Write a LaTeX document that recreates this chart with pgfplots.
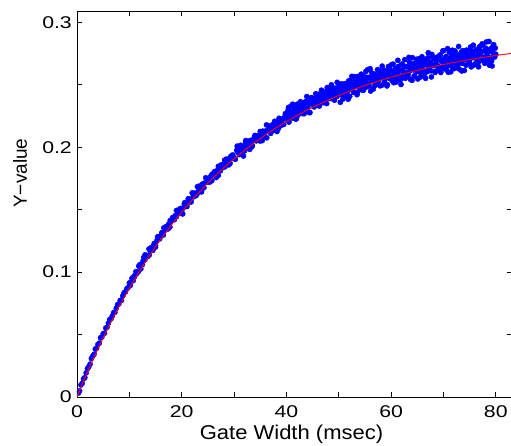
\documentclass[border=0pt]{standalone}
\usepackage{fontspec}
\setmainfont{Liberation Sans}
\newfontfamily\tickfont{Liberation Sans}[FakeStretch=1.25]
\newfontfamily\xlabfont{Liberation Sans}[FakeStretch=1.1]
\usepackage{pgfplots}
\usepackage{pgfplotstable}
\pgfplotsset{compat=1.18}
\usetikzlibrary{calc}

% measured points (x in msec, y value)
\pgfplotstableread{
x y
0.25 0.0031
0.5 0.0049
0.75 0.0096
1.0 0.0110
1.25 0.0145
1.5 0.0156
1.75 0.0193
2.0 0.0227
2.25 0.0241
2.5 0.0263
2.75 0.0308
3.0 0.0326
3.25 0.0342
3.5 0.0384
3.75 0.0390
4.0 0.0421
4.25 0.0431
4.5 0.0474
4.75 0.0480
5.0 0.0506
5.25 0.0511
5.5 0.0552
5.75 0.0559
6.0 0.0591
6.25 0.0620
6.5 0.0626
6.75 0.0649
7.0 0.0675
7.25 0.0678
7.5 0.0710
7.75 0.0739
8.0 0.0745
8.25 0.0773
8.5 0.0773
8.75 0.0809
9.0 0.0835
9.25 0.0842
9.5 0.0866
9.75 0.0875
10.0 0.0913
10.25 0.0915
10.5 0.0948
10.75 0.0932
11.0 0.0971
11.25 0.1003
11.5 0.0997
11.75 0.1005
12.0 0.1059
12.25 0.1060
12.5 0.1061
12.75 0.1117
13.0 0.1100
13.25 0.1131
13.5 0.1124
13.75 0.1185
14.0 0.1168
14.25 0.1192
14.5 0.1174
14.75 0.1229
15.0 0.1214
15.25 0.1250
15.5 0.1283
15.75 0.1268
16.0 0.1289
16.25 0.1315
16.5 0.1297
16.75 0.1335
17.0 0.1364
17.25 0.1351
17.5 0.1383
17.75 0.1361
18.0 0.1408
18.25 0.1436
18.5 0.1425
18.75 0.1451
19.0 0.1443
19.25 0.1495
19.5 0.1481
19.75 0.1509
20.0 0.1489
20.25 0.1513
20.5 0.1545
20.75 0.1525
21.0 0.1525
21.25 0.1586
21.5 0.1578
21.75 0.1570
22.0 0.1634
22.25 0.1602
22.5 0.1633
22.75 0.1612
23.0 0.1684
23.25 0.1651
23.5 0.1675
23.75 0.1642
24.0 0.1705
24.25 0.1676
24.5 0.1715
24.75 0.1749
25.0 0.1720
25.25 0.1738
25.5 0.1765
25.75 0.1732
26.0 0.1774
26.25 0.1804
26.5 0.1778
26.75 0.1812
27.0 0.1774
27.25 0.1828
27.5 0.1857
27.75 0.1835
28.0 0.1861
28.25 0.1842
28.5 0.1904
28.75 0.1877
29.0 0.1906
29.25 0.1871
29.5 0.1908
29.75 0.1938
30.0 0.1915
30.25 0.1905
30.5 0.1974
30.75 0.1957
31.0 0.1941
31.25 0.2015
31.5 0.1968
31.75 0.2002
32.0 0.1970
32.25 0.2053
32.5 0.2006
32.75 0.2029
33.0 0.1982
33.25 0.2055
33.5 0.2013
33.75 0.2056
34.0 0.2094
34.25 0.2051
34.5 0.2069
34.75 0.2096
35.0 0.2049
35.25 0.2096
35.5 0.2128
35.75 0.2091
36.0 0.2128
36.25 0.2075
36.5 0.2137
36.75 0.2169
37.0 0.2136
37.25 0.2163
37.5 0.2135
37.75 0.2207
38.0 0.2169
38.25 0.2200
38.5 0.2151
38.75 0.2193
39.0 0.2224
39.25 0.2191
39.5 0.2182
39.75 0.2249
40.0 0.2230
40.2 0.2222
40.4 0.2318
40.6 0.2245
40.8 0.2285
41.0 0.2234
41.2 0.2344
41.4 0.2272
41.6 0.2297
41.8 0.2225
42.0 0.2321
42.2 0.2255
42.4 0.2309
42.6 0.2355
42.8 0.2290
43.0 0.2308
43.2 0.2341
43.4 0.2268
43.6 0.2329
43.8 0.2368
44.0 0.2310
44.2 0.2356
44.4 0.2276
44.6 0.2357
44.8 0.2396
45.0 0.2344
45.2 0.2376
45.4 0.2332
45.6 0.2427
45.8 0.2368
46.0 0.2407
46.2 0.2334
46.4 0.2387
46.6 0.2426
46.8 0.2374
47.0 0.2356
47.2 0.2444
47.4 0.2413
47.6 0.2382
47.8 0.2477
48.0 0.2404
48.2 0.2442
48.4 0.2390
48.6 0.2499
48.8 0.2425
49.0 0.2450
49.2 0.2376
49.4 0.2471
49.6 0.2405
49.8 0.2457
50.0 0.2503
50.2 0.2420
50.4 0.2442
50.6 0.2481
50.8 0.2385
51.0 0.2461
51.2 0.2509
51.4 0.2431
51.6 0.2489
51.8 0.2384
52.0 0.2486
52.2 0.2534
52.4 0.2466
52.6 0.2505
52.8 0.2445
53.0 0.2565
53.2 0.2487
53.4 0.2535
53.6 0.2439
53.8 0.2505
54.0 0.2554
54.2 0.2484
54.4 0.2460
54.6 0.2571
54.8 0.2529
55.0 0.2487
55.2 0.2607
55.4 0.2501
55.6 0.2559
55.8 0.2490
56.0 0.2628
56.2 0.2531
56.4 0.2561
56.6 0.2465
56.8 0.2584
57.0 0.2497
57.2 0.2563
57.4 0.2620
57.6 0.2532
57.8 0.2553
58.0 0.2592
58.2 0.2495
58.4 0.2570
58.6 0.2617
58.8 0.2539
59.0 0.2595
59.2 0.2490
59.4 0.2591
59.6 0.2639
59.8 0.2569
60.0 0.2608
60.2 0.2532
60.4 0.2665
60.6 0.2577
60.8 0.2629
61.0 0.2522
61.2 0.2594
61.4 0.2646
61.6 0.2569
61.8 0.2541
62.0 0.2663
62.2 0.2615
62.4 0.2568
62.6 0.2700
62.8 0.2592
63.0 0.2644
63.2 0.2566
63.4 0.2719
63.6 0.2611
63.8 0.2643
64.0 0.2535
64.2 0.2667
64.4 0.2569
64.6 0.2641
64.8 0.2703
65.0 0.2605
65.2 0.2627
65.4 0.2669
65.6 0.2561
65.8 0.2643
66.0 0.2695
66.2 0.2607
66.4 0.2669
66.6 0.2551
66.8 0.2663
67.0 0.2715
67.2 0.2637
67.4 0.2679
67.6 0.2611
67.8 0.2742
68.0 0.2654
68.2 0.2706
68.4 0.2598
68.6 0.2670
68.8 0.2721
69.0 0.2643
69.2 0.2615
69.4 0.2737
69.6 0.2688
69.8 0.2640
70.0 0.2772
70.2 0.2664
70.4 0.2715
70.6 0.2637
70.8 0.2789
71.0 0.2680
71.2 0.2712
71.4 0.2603
71.6 0.2735
71.8 0.2637
72.0 0.2708
72.2 0.2770
72.4 0.2671
72.6 0.2693
72.8 0.2735
73.0 0.2626
73.2 0.2708
73.4 0.2759
73.6 0.2671
73.8 0.2732
74.0 0.2614
74.2 0.2725
74.4 0.2777
74.6 0.2698
74.8 0.2739
75.0 0.2671
75.2 0.2802
75.4 0.2714
75.6 0.2765
75.8 0.2657
76.0 0.2728
76.2 0.2779
76.4 0.2701
76.6 0.2672
76.8 0.2793
77.0 0.2745
77.2 0.2696
77.4 0.2827
77.6 0.2718
77.8 0.2770
78.0 0.2691
78.2 0.2842
78.4 0.2734
78.6 0.2765
78.8 0.2656
79.0 0.2787
79.2 0.2689
79.4 0.2760
79.6 0.2821
79.8 0.2722
80.0 0.2744
40.1 0.2226
40.3 0.2294
40.5 0.2201
40.7 0.2276
40.9 0.2330
41.1 0.2264
41.3 0.2234
41.5 0.2309
41.7 0.2285
41.9 0.2227
42.1 0.2344
42.3 0.2271
42.5 0.2325
42.7 0.2364
42.9 0.2299
43.1 0.2268
43.3 0.2357
43.5 0.2333
43.7 0.2296
43.9 0.2405
44.1 0.2319
44.3 0.2358
44.5 0.2278
44.7 0.2394
44.9 0.2349
45.1 0.2388
45.3 0.2322
45.5 0.2390
45.7 0.2359
45.9 0.2356
46.1 0.2423
46.3 0.2329
46.5 0.2403
46.7 0.2456
46.9 0.2390
47.1 0.2358
47.3 0.2432
47.5 0.2408
47.7 0.2349
47.9 0.2465
48.1 0.2392
48.3 0.2444
48.5 0.2483
48.7 0.2417
48.9 0.2385
49.1 0.2473
49.3 0.2448
49.5 0.2410
49.7 0.2519
49.9 0.2431
50.1 0.2464
50.3 0.2359
50.5 0.2507
50.7 0.2447
50.9 0.2495
51.1 0.2409
51.3 0.2493
51.5 0.2451
51.7 0.2446
51.9 0.2530
52.1 0.2407
52.3 0.2500
52.5 0.2567
52.7 0.2480
52.9 0.2438
53.1 0.2531
53.3 0.2498
53.5 0.2420
53.7 0.2567
53.9 0.2471
54.1 0.2537
54.3 0.2584
54.5 0.2497
54.7 0.2455
54.9 0.2566
55.1 0.2533
55.3 0.2482
55.5 0.2620
55.7 0.2506
55.9 0.2554
56.1 0.2449
56.3 0.2595
56.5 0.2535
56.7 0.2583
56.9 0.2495
57.1 0.2579
57.3 0.2537
57.5 0.2531
57.7 0.2614
57.9 0.2491
58.1 0.2584
58.3 0.2649
58.5 0.2562
58.7 0.2519
58.9 0.2612
59.1 0.2578
59.3 0.2500
59.5 0.2646
59.7 0.2550
59.9 0.2615
60.1 0.2661
60.3 0.2563
60.5 0.2516
60.7 0.2618
60.9 0.2600
61.1 0.2543
61.3 0.2695
61.5 0.2567
61.7 0.2620
61.9 0.2502
62.1 0.2664
62.3 0.2596
62.5 0.2649
62.7 0.2551
62.9 0.2643
63.1 0.2595
63.3 0.2587
63.5 0.2680
63.7 0.2542
63.9 0.2644
64.1 0.2716
64.3 0.2618
64.5 0.2570
64.7 0.2672
64.9 0.2634
65.1 0.2546
65.3 0.2708
65.5 0.2600
65.7 0.2672
65.9 0.2724
66.1 0.2626
66.3 0.2578
66.5 0.2700
66.7 0.2662
66.9 0.2604
67.1 0.2756
67.3 0.2628
67.5 0.2680
67.7 0.2562
67.9 0.2723
68.1 0.2655
68.3 0.2707
68.5 0.2609
68.7 0.2701
68.9 0.2652
69.1 0.2644
69.3 0.2736
69.5 0.2598
69.7 0.2699
69.9 0.2771
70.1 0.2673
70.3 0.2625
70.5 0.2726
70.7 0.2688
70.9 0.2600
71.1 0.2761
71.3 0.2653
71.5 0.2724
71.7 0.2776
71.9 0.2678
72.1 0.2629
72.3 0.2751
72.5 0.2712
72.7 0.2654
72.9 0.2806
73.1 0.2677
73.3 0.2729
73.5 0.2610
73.7 0.2772
73.9 0.2703
74.1 0.2755
74.3 0.2656
74.5 0.2748
74.7 0.2699
74.9 0.2690
75.1 0.2782
75.3 0.2643
75.5 0.2745
75.7 0.2816
75.9 0.2718
76.1 0.2669
76.3 0.2770
76.5 0.2732
76.7 0.2643
76.9 0.2804
77.1 0.2696
77.3 0.2767
77.5 0.2818
77.7 0.2719
77.9 0.2671
78.1 0.2792
78.3 0.2753
78.5 0.2695
78.7 0.2846
78.9 0.2717
79.1 0.2768
79.3 0.2650
79.5 0.2811
79.7 0.2742
79.9 0.2793
10.2 0.0894
10.6 0.0954
11.0 0.0964
11.4 0.0988
11.8 0.1048
12.2 0.1026
12.6 0.1087
13.0 0.1138
13.4 0.1128
13.8 0.1137
14.2 0.1197
14.6 0.1207
15.0 0.1200
15.4 0.1281
15.8 0.1266
16.2 0.1314
16.6 0.1354
17.0 0.1342
17.4 0.1346
17.8 0.1412
18.2 0.1420
18.6 0.1419
19.0 0.1493
19.4 0.1468
19.8 0.1507
20.2 0.1465
20.6 0.1556
21.0 0.1544
21.4 0.1587
21.8 0.1561
22.2 0.1621
22.6 0.1616
23.0 0.1630
23.4 0.1689
23.8 0.1644
24.2 0.1706
24.6 0.1755
25.0 0.1727
25.4 0.1721
25.8 0.1783
26.2 0.1782
26.6 0.1757
27.0 0.1846
27.4 0.1811
27.8 0.1859
28.2 0.1896
28.6 0.1866
29.0 0.1858
29.4 0.1928
29.8 0.1924
30.2 0.1904
30.6 0.2008
31.0 0.1943
31.4 0.1987
31.8 0.1929
32.2 0.2037
32.6 0.2008
33.0 0.2051
33.4 0.2004
33.8 0.2070
34.2 0.2053
34.6 0.2059
35.0 0.2125
35.4 0.2053
35.8 0.2124
36.2 0.2178
36.6 0.2129
37.0 0.2110
37.4 0.2181
37.8 0.2168
38.2 0.2125
38.6 0.2231
39.0 0.2175
39.4 0.2228
39.8 0.2268
}\gatedata

% fitted curve
\pgfplotstableread{
x y
0 0
0.5 0.0051
1 0.0102
1.5 0.0151
2 0.0200
4 0.0386
6 0.0559
8 0.0721
10 0.0871
12 0.1011
14 0.1141
16 0.1262
18 0.1375
20 0.1480
22 0.1578
24 0.1669
26 0.1754
28 0.1833
30 0.1907
32 0.1975
34 0.2039
36 0.2098
38 0.2154
40 0.2205
42 0.2253
44 0.2298
46 0.2339
48 0.2378
50 0.2414
52 0.2447
54 0.2479
56 0.2508
58 0.2535
60 0.2560
62 0.2583
64 0.2605
66 0.2625
68 0.2644
70 0.2662
72 0.2678
74 0.2694
76 0.2708
78 0.2721
80 0.2734
82 0.2745
84 0.2756
}\fitcurve

\begin{document}
\begin{tikzpicture}
\begin{axis}[
    scale only axis,
    width=435pt, height=386pt,
    xmin=0, xmax=83.1,
    ymin=0, ymax=0.309,
    xtick={0,20,40,60,80},
    ytick={0,0.1,0.2,0.3},
    minor x tick num=1, minor y tick num=1,
    major tick length=5pt, minor tick length=5pt,
    tick align=inside,
    tick style={black, line width=0.6pt},
    axis line style={black, line width=0.8pt},
    clip marker paths=true,
    /pgf/number format/assume math mode=true,
    tick label style={font=\tickfont\fontsize{17}{20}\selectfont},
    xticklabel style={anchor=north, inner sep=0pt, yshift=-8pt},
    yticklabel style={anchor=east, inner sep=0pt, xshift=-5pt},
    xlabel={Gate Width (msec)},
    ylabel={Y−value},
    xlabel style={at={(axis description cs:0.5,0)}, anchor=base,
                  yshift=-42pt, xshift=-3pt,
                  font=\xlabfont\fontsize{20}{24}\selectfont},
    ylabel style={at={(axis description cs:-0.115,0.58)}, anchor=base,
                  font=\fontsize{19}{23}\selectfont},
]
\addplot[only marks, mark=*, mark size=2.6pt, color=blue,
         mark options={draw=blue, fill=blue}] table {\gatedata};
\addplot[red, line width=0.9pt, no marks] table {\fitcurve};
\end{axis}
\pgfresetboundingbox
\useasboundingbox ($(current axis.south west)+(-77pt,-48pt)$)
    rectangle ($(current axis.north east)+(-1pt,11pt)$);
\end{tikzpicture}
\end{document}
